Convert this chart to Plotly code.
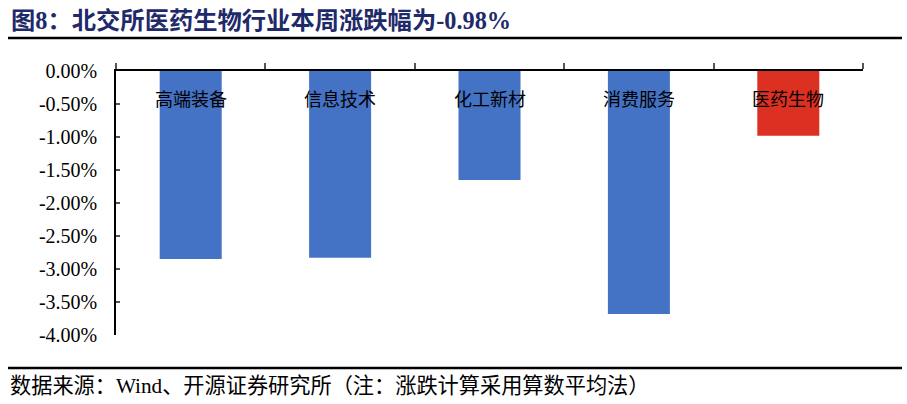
import plotly.graph_objects as go

categories = ["高端装备", "信息技术", "化工新材", "消费服务", "医药生物"]
weekly_change_pct = [-2.85, -2.83, -1.65, -3.68, -0.98]
bar_colors = ["#4472C4", "#4472C4", "#4472C4", "#4472C4", "#DC3022"]
y_ticks = [0, -0.5, -1.0, -1.5, -2.0, -2.5, -3.0, -3.5, -4.0]
y_tick_labels = ["%.2f%%" % v for v in y_ticks]

title_text = "图8：北交所医药生物行业本周涨跌幅为-0.98%"
source_text = "数据来源：Wind、开源证券研究所（注：涨跌计算采用算数平均法）"

W, H = 907, 404
L, R, T, B = 116, 44, 71, 69
pw, ph = W - L - R, H - T - B

def px_x(p):
    return (p - L) / pw

def px_y(p):
    return (H - B - p) / ph

fig = go.Figure()
fig.add_trace(go.Bar(
    x=categories, y=weekly_change_pct, marker=dict(color=bar_colors, line=dict(width=0)),
    width=0.415, hoverinfo="x+y",
))

for c in categories:
    fig.add_annotation(x=c, y=-0.41, text=c, showarrow=False,
                       font=dict(family="Noto Sans CJK SC", size=18, color="#000000"),
                       xanchor="center", yanchor="middle")

fig.add_annotation(xref="paper", yref="paper", x=px_x(9), y=px_y(20), text="<b>" + title_text + "</b>",
                   showarrow=False, xanchor="left", yanchor="middle",
                   font=dict(family="Liberation Serif, Noto Sans CJK SC", size=24.3, color="#1F2A6B"))
fig.add_annotation(xref="paper", yref="paper", x=px_x(8), y=px_y(386), text=source_text,
                   showarrow=False, xanchor="left", yanchor="middle",
                   font=dict(family="Liberation Serif, Noto Sans CJK SC", size=21.2, color="#000000"))

for ypix in (38, 368):
    fig.add_shape(type="line", xref="paper", yref="paper",
                  x0=px_x(8), x1=px_x(902), y0=px_y(ypix), y1=px_y(ypix),
                  line=dict(color="#000000", width=2.5))

fig.update_layout(
    width=W, height=H, margin=dict(l=L, r=R, t=T, b=B),
    paper_bgcolor="white", plot_bgcolor="white", showlegend=False,
    bargap=0.585,
    xaxis=dict(side="top", showticklabels=False, ticks="outside", tickson="boundaries",
               ticklen=6, tickcolor="#555555", tickwidth=1.5, showline=True, linecolor="#000000",
               linewidth=1.5, showgrid=False, zeroline=False),
    yaxis=dict(range=[-4, 0], tickvals=y_ticks, ticktext=y_tick_labels,
               ticks="inside", ticklen=4, tickcolor="#555555", tickwidth=1.5,
               showline=True, linecolor="#000000", linewidth=1.5, showgrid=False, zeroline=False,
               tickfont=dict(family="Liberation Serif", size=20, color="#000000"), ticklabelstandoff=13),
)

fig.write_html("out.html", config={"displayModeBar": False},
               post_script="document.body.style.margin='0';document.body.style.overflow='hidden';")
